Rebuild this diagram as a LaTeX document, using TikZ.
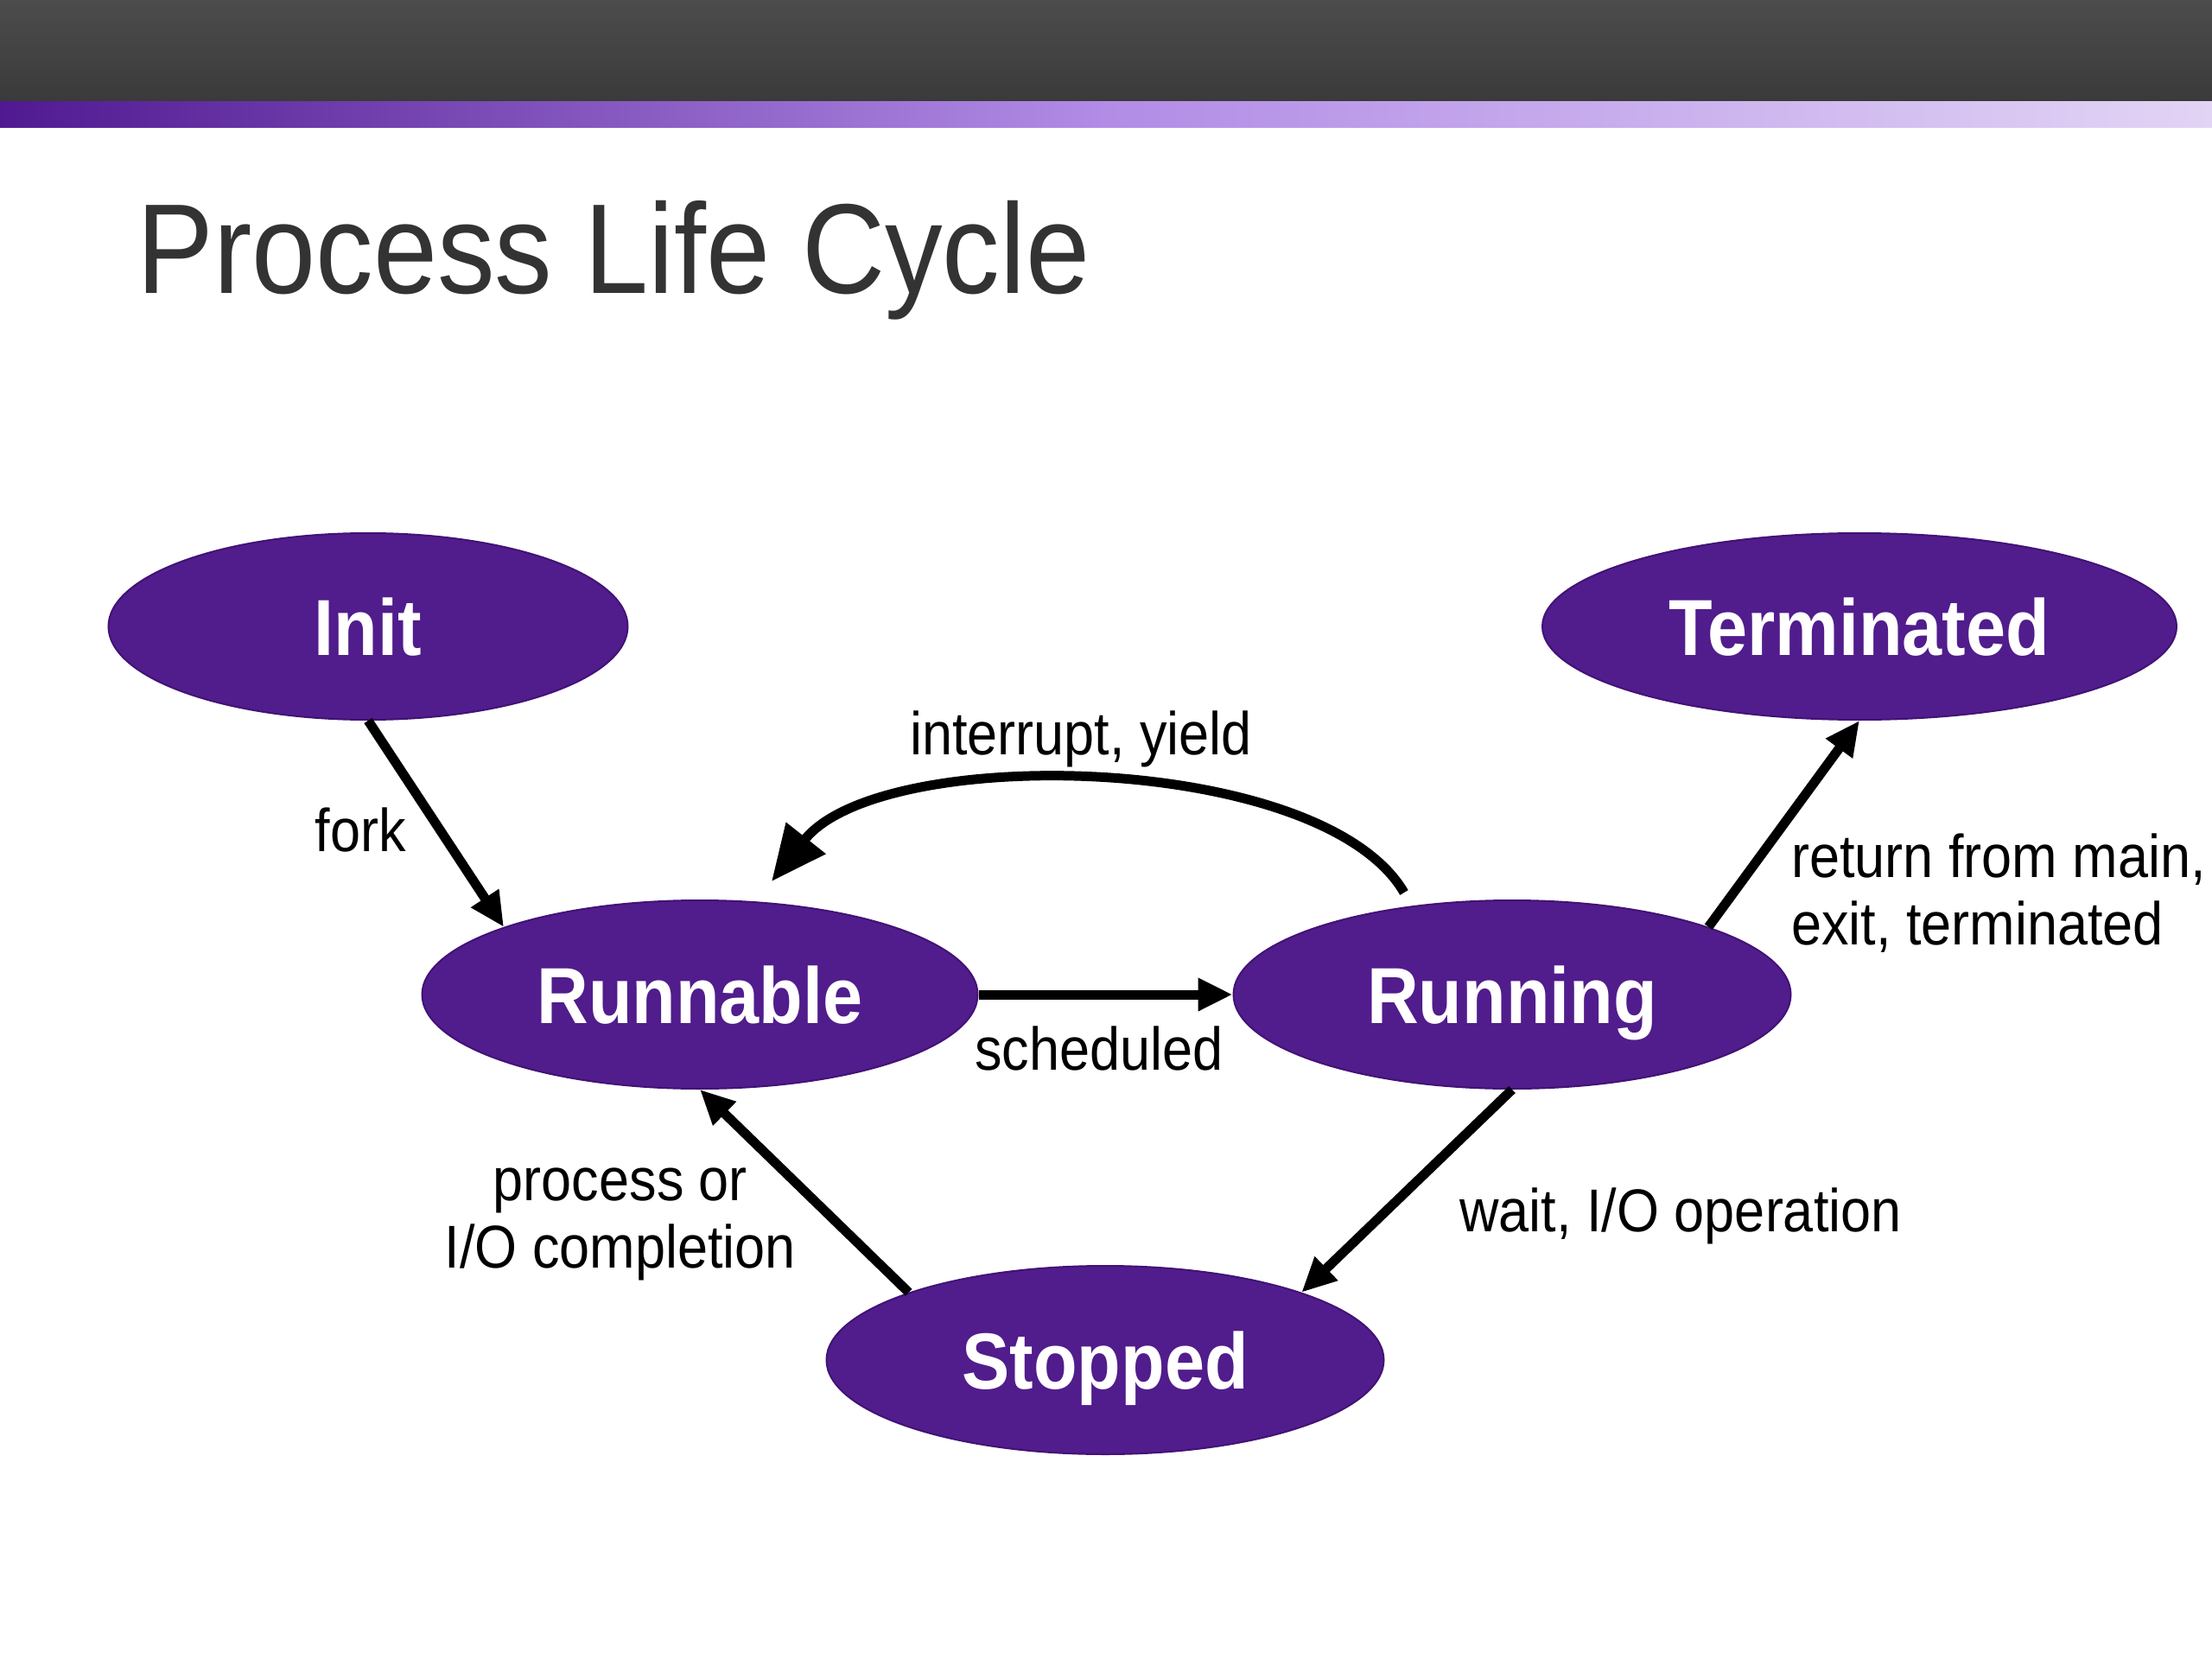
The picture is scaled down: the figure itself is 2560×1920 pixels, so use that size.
\documentclass[tikz,border=0pt]{standalone}
\usepackage{fontspec}
\setmainfont{Liberation Sans}[FakeStretch=0.9]
\usetikzlibrary{shapes.geometric,arrows.meta,calc}
\definecolor{nodepurple}{RGB}{81,28,140}
\definecolor{nodeedge}{RGB}{66,18,118}
\definecolor{titlegray}{RGB}{51,51,51}
\definecolor{bardark}{RGB}{58,58,58}
\definecolor{bartop}{RGB}{76,76,76}
\definecolor{bandleft}{RGB}{80,25,145}
\definecolor{bandmid}{RGB}{178,140,230}
\definecolor{bandright}{RGB}{226,212,245}
\begin{document}
\begin{tikzpicture}[x=0.5pt,y=-0.5pt,
  state/.style={ellipse, fill=nodepurple, draw=nodeedge, line width=1pt, text=white,
    font=\bfseries\fontsize{46}{50}\selectfont, inner sep=0pt, text height=33pt, text depth=0pt},
  lbl/.style={font=\fontsize{35}{39}\selectfont, text=black, inner sep=0pt},
  arr/.style={line width=5.5pt, -{Triangle[length=20pt,width=18pt]}},
  bigarr/.style={line width=5.5pt, -{Triangle[length=32pt,width=28pt]}},
]
\useasboundingbox (0,0) rectangle (2560,1920);
\fill[white] (0,0) rectangle (2560,1920);
\shade[top color=bartop, bottom color=bardark] (0,0) rectangle (2560,118);
\shade[left color=bandleft, right color=bandright, middle color=bandmid] (0,118) rectangle (2560,148);

\node[anchor=base west, text=titlegray, font=\fontsize{74}{80}\selectfont, inner sep=0pt] (title) at (158,340) {Process Life Cycle};

\node[state, minimum width=300.5pt, minimum height=108pt] (init) at (426,725) {Init};
\node[state, minimum width=367pt, minimum height=108pt] (terminated) at (2152,725) {Terminated};
\node[state, minimum width=321.5pt, minimum height=109pt] (runnable) at (810,1151) {Runnable};
\node[state, minimum width=322.5pt, minimum height=109pt] (running) at (1750,1151) {Running};
\node[state, minimum width=322.5pt, minimum height=109pt] (stopped) at (1279,1574) {Stopped};

\draw[arr] (init.south) -- (runnable.161);
\draw[arr] (runnable.east) -- (running.west);
\draw[arr] (running.19) -- (terminated.south);
\draw[arr] (running.south) -- (stopped.19);
\draw[arr] (stopped.161) -- (runnable.south);

\coordinate (irqs) at ($(running.center)+(-125,-118)$);
\coordinate (irqe) at ($(runnable.center)+(83,-131)$);
\draw[bigarr] (irqs) .. controls (1530,870) and (1020,860) .. (irqe);

\node[lbl, anchor=base] (forklbl) at (417,985) {fork};
\node[lbl, anchor=base] (irqlbl) at (1251,873) {interrupt, yield};
\node[lbl, anchor=base] (schedlbl) at (1272,1238) {scheduled};
\node[lbl, anchor=west, align=left] (retlbl) at (2073,1034) {return from main,\\exit, terminated};
\node[lbl, align=center] (proclbl) at (718,1417) {process or\\I/O completion};
\node[lbl, anchor=base] (waitlbl) at (1945,1425) {wait, I/O operation};
\end{tikzpicture}
\end{document}
